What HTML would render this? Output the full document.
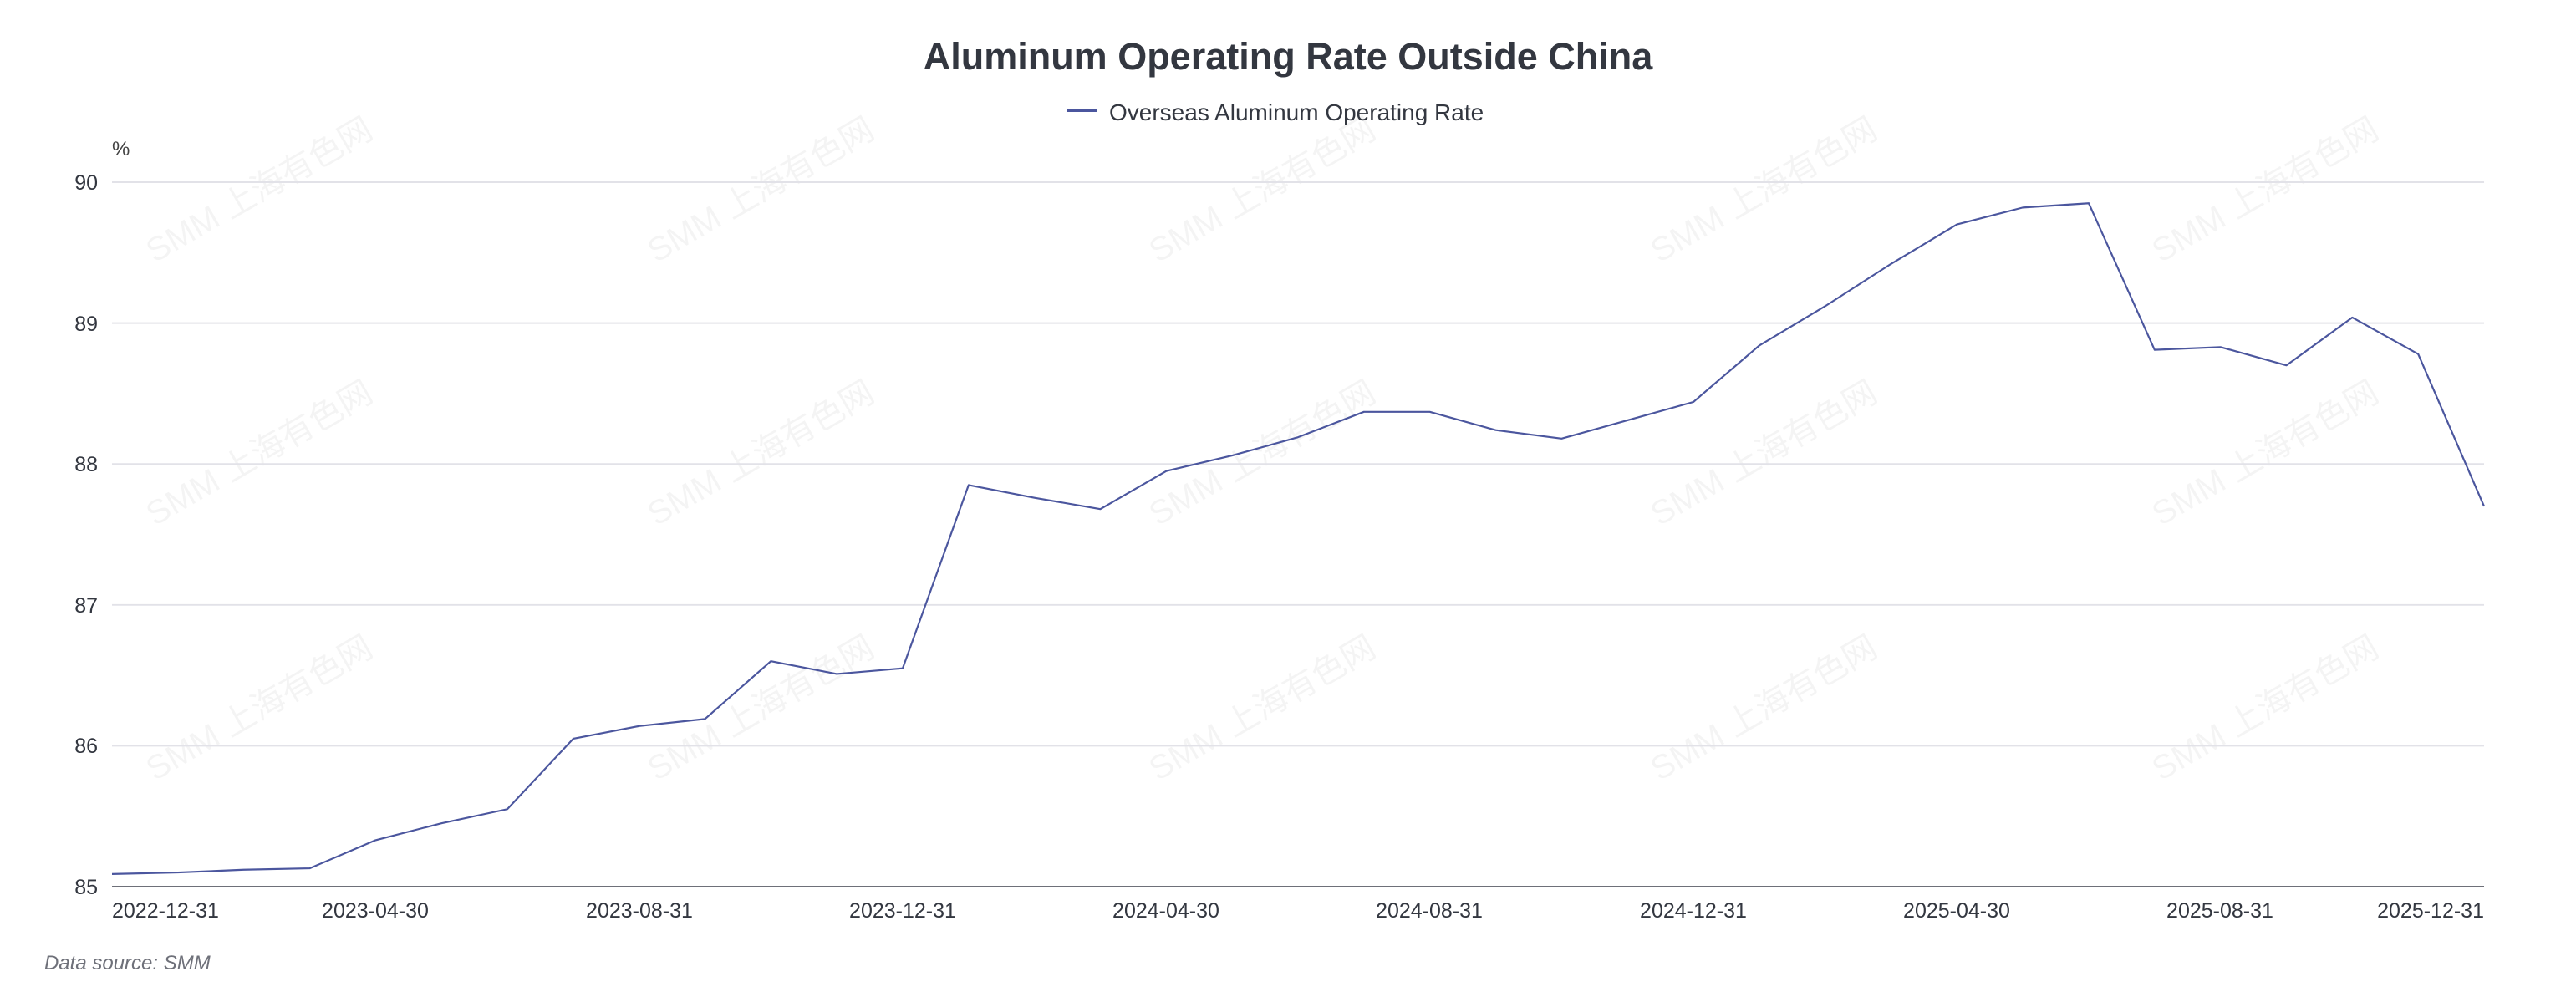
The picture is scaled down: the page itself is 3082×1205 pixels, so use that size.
<!DOCTYPE html>
<html><head><meta charset="utf-8"><style>
html,body{margin:0;padding:0;background:#fff;}
body{width:3082px;height:1200px;overflow:hidden;}
</style></head><body>
<svg width="3082" height="1200" viewBox="0 0 3082 1200" xmlns="http://www.w3.org/2000/svg" font-family="Liberation Sans, Noto Sans CJK SC, sans-serif">
<g fill="#000" fill-opacity="0.045" font-size="40">
<text transform="translate(185,315) rotate(-30)">SMM 上海有色网</text>
<text transform="translate(785,315) rotate(-30)">SMM 上海有色网</text>
<text transform="translate(1385,315) rotate(-30)">SMM 上海有色网</text>
<text transform="translate(1985,315) rotate(-30)">SMM 上海有色网</text>
<text transform="translate(2585,315) rotate(-30)">SMM 上海有色网</text>
<text transform="translate(185,630) rotate(-30)">SMM 上海有色网</text>
<text transform="translate(785,630) rotate(-30)">SMM 上海有色网</text>
<text transform="translate(1385,630) rotate(-30)">SMM 上海有色网</text>
<text transform="translate(1985,630) rotate(-30)">SMM 上海有色网</text>
<text transform="translate(2585,630) rotate(-30)">SMM 上海有色网</text>
<text transform="translate(185,935) rotate(-30)">SMM 上海有色网</text>
<text transform="translate(785,935) rotate(-30)">SMM 上海有色网</text>
<text transform="translate(1385,935) rotate(-30)">SMM 上海有色网</text>
<text transform="translate(1985,935) rotate(-30)">SMM 上海有色网</text>
<text transform="translate(2585,935) rotate(-30)">SMM 上海有色网</text>
</g>
<text x="1541" y="83" text-anchor="middle" font-size="45" font-weight="bold" fill="#333740">Aluminum Operating Rate Outside China</text>
<line x1="1276" y1="132" x2="1312" y2="132" stroke="#4b569e" stroke-width="4"/>
<text x="1327" y="144" font-size="28" fill="#333740">Overseas Aluminum Operating Rate</text>
<text x="134" y="186" font-size="24" fill="#444">%</text>
<g font-size="25" fill="#333740" text-anchor="end">
<text x="117" y="227">90</text>
<text x="117" y="396">89</text>
<text x="117" y="564">88</text>
<text x="117" y="733">87</text>
<text x="117" y="901">86</text>
<text x="117" y="1070">85</text>
</g>
<g transform="translate(134,218) scale(0.98269,0.98252) translate(-136,-222)">
<g stroke="#e2e2e8" stroke-width="2">
<line x1="136" y1="222" x2="3024" y2="222"/>
<line x1="136" y1="393.6" x2="3024" y2="393.6"/>
<line x1="136" y1="565.2" x2="3024" y2="565.2"/>
<line x1="136" y1="736.8" x2="3024" y2="736.8"/>
<line x1="136" y1="908.4" x2="3024" y2="908.4"/>
</g>
<line x1="136" y1="1080" x2="3024" y2="1080" stroke="#6e7079" stroke-width="2"/>
<polyline fill="none" stroke="#4b569e" stroke-width="2.2" stroke-linejoin="round" points="136,1064.6 216.2,1062.8 296.4,1059.4 376.7,1057.7 456.9,1023.4 537.1,1002.8 617.3,985.6 697.6,899.8 777.8,884.4 858,875.8 938.2,805.4 1018.4,820.9 1098.7,814 1178.9,590.9 1259.1,606.4 1339.3,620.1 1419.6,573.8 1499.8,554.9 1580,532.6 1660.2,501.7 1740.4,501.7 1820.7,524 1900.9,534.3 1981.1,512 2061.3,489.7 2141.6,420.9 2221.8,373 2302,321.5 2382.2,273.5 2462.4,252.9 2542.7,247.7 2622.9,426.2 2703.1,422.8 2783.3,445.1 2863.6,386.8 2943.8,431.4 3024,616.7"/>
</g>
<g font-size="25" fill="#333740" text-anchor="middle">
<text x="134" y="1098" text-anchor="start">2022-12-31</text>
<text x="449" y="1098">2023-04-30</text>
<text x="765" y="1098">2023-08-31</text>
<text x="1080" y="1098">2023-12-31</text>
<text x="1395" y="1098">2024-04-30</text>
<text x="1710" y="1098">2024-08-31</text>
<text x="2026" y="1098">2024-12-31</text>
<text x="2341" y="1098">2025-04-30</text>
<text x="2656" y="1098">2025-08-31</text>
<text x="2972" y="1098" text-anchor="end">2025-12-31</text>
</g>
<text x="53" y="1160" font-size="24" font-style="italic" fill="#6e7079">Data source:  SMM</text>
</svg>
</body></html>
